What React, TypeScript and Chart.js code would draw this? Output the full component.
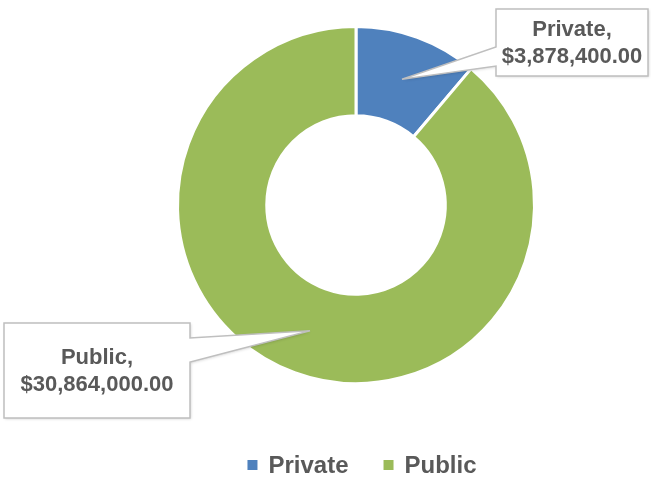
import React, { useEffect, useRef } from "react";
import { Chart, registerables } from "chart.js";

Chart.register(...registerables);

const categories = ["Private", "Public"];
const values = [3878400, 30864000];
const colors = ["#4F81BD", "#9BBB59"];

const FONT = "'Liberation Sans', Arial, sans-serif";
const TEXT_COLOR = "#595959";

// callout boxes: [x, y, w, h], pointer side and base span on that side
const callouts = [
  { x: 496, y: 9, w: 152, h: 67, side: "left", b1: 47, b2: 66 },
  { x: 4, y: 323, w: 186, h: 95, side: "right", b1: 338, b2: 362 },
];

function fmt(v: number) {
  return "$" + v.toLocaleString("en-US", { minimumFractionDigits: 2, maximumFractionDigits: 2 });
}

const calloutPlugin = {
  id: "callouts",
  afterDatasetsDraw(chart: any) {
    const ctx = chart.ctx;
    const meta = chart.getDatasetMeta(0);
    meta.data.forEach((arc: any, i: number) => {
      const c = callouts[i];
      if (!c) return;
      const tip = arc.tooltipPosition();
      ctx.save();
      ctx.beginPath();
      if (c.side === "left") {
        ctx.moveTo(c.x, c.y);
        ctx.lineTo(c.x + c.w, c.y);
        ctx.lineTo(c.x + c.w, c.y + c.h);
        ctx.lineTo(c.x, c.y + c.h);
        ctx.lineTo(c.x, c.b2);
        ctx.lineTo(tip.x, tip.y);
        ctx.lineTo(c.x, c.b1);
        ctx.closePath();
      } else {
        const r = c.x + c.w;
        ctx.moveTo(c.x, c.y);
        ctx.lineTo(r, c.y);
        ctx.lineTo(r, c.b1);
        ctx.lineTo(tip.x, tip.y);
        ctx.lineTo(r, c.b2);
        ctx.lineTo(r, c.y + c.h);
        ctx.lineTo(c.x, c.y + c.h);
        ctx.closePath();
      }
      ctx.shadowColor = "rgba(0,0,0,0.18)";
      ctx.shadowBlur = 3;
      ctx.shadowOffsetX = 1;
      ctx.shadowOffsetY = 1;
      ctx.fillStyle = "#ffffff";
      ctx.fill();
      ctx.shadowColor = "transparent";
      ctx.lineWidth = 1.5;
      ctx.strokeStyle = "#BFBFBF";
      ctx.stroke();

      ctx.fillStyle = TEXT_COLOR;
      ctx.font = `bold 22px ${FONT}`;
      ctx.textAlign = "center";
      ctx.textBaseline = "middle";
      const cx = c.x + c.w / 2;
      const cy = c.y + c.h / 2;
      ctx.fillText(chart.data.labels[i] + ",", cx, cy - 13);
      ctx.fillText(fmt(chart.data.datasets[0].data[i]), cx, cy + 14);
      ctx.restore();
    });

    // legend
    ctx.save();
    ctx.font = `bold 24px ${FONT}`;
    ctx.textBaseline = "middle";
    ctx.textAlign = "left";
    const box = 10;
    const gapBox = 11;
    const gapItem = 35;
    const labels: string[] = chart.data.labels;
    const widths = labels.map((l) => ctx.measureText(l).width);
    let total = 0;
    widths.forEach((w, i) => {
      total += box + gapBox + w + (i < widths.length - 1 ? gapItem : 0);
    });
    let x = 362 - total / 2;
    const yMid = 465;
    labels.forEach((l, i) => {
      ctx.fillStyle = colors[i];
      ctx.fillRect(x, yMid - box / 2, box, box);
      x += box + gapBox;
      ctx.fillStyle = TEXT_COLOR;
      ctx.fillText(l, x, yMid + 1);
      x += widths[i] + gapItem;
    });
    ctx.restore();
  },
};

export default function App() {
  const ref = useRef<HTMLCanvasElement>(null);
  useEffect(() => {
    if (!ref.current) return;
    const chart = new Chart(ref.current, {
      type: "doughnut",
      data: {
        labels: categories,
        datasets: [
          {
            data: values,
            backgroundColor: colors,
            borderColor: "#ffffff",
            borderWidth: 3,
          },
        ],
      },
      options: {
        responsive: false,
        animation: false,
        cutout: "50%",
        layout: { padding: { top: 25, bottom: 93, left: 61, right: 0 } },
        plugins: {
          legend: { display: false },
          tooltip: { enabled: false },
        },
      },
      plugins: [calloutPlugin],
    });
    return () => chart.destroy();
  }, []);
  return (
    <div style={{ position: "fixed", left: 0, top: 0, width: 651, height: 478, background: "#fff" }}>
      <canvas ref={ref} width={651} height={478} />
    </div>
  );
}
